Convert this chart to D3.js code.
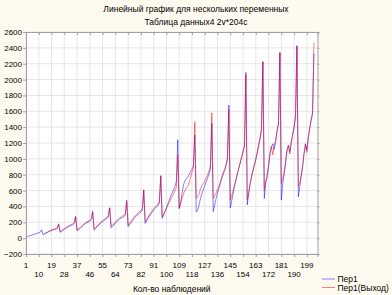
<!DOCTYPE html>
<html>
<head>
<meta charset="utf-8">
<script src="https://cdn.jsdelivr.net/npm/d3@7"></script>
<style>
  body { margin: 0; background: #fffaf0; }
  svg { display: block; font-family: "Liberation Sans", Arial, sans-serif; }
</style>
</head>
<body>
<svg id="chart"></svg>
<script>
// series values, one row per 12 observations
let per1 = [
  15, 20, 26, 32, 38, 45, 50, 56, 62, 68, 75, 105,
  45, 52, 60, 70, 80, 90, 98, 104, 108, 112, 120, 180,
  75, 82, 95, 110, 122, 135, 145, 155, 162, 168, 185, 265,
  90, 105, 120, 138, 155, 170, 185, 195, 205, 212, 235, 330,
  100, 120, 140, 158, 178, 195, 210, 222, 235, 248, 262, 380,
  130, 148, 168, 190, 205, 225, 240, 252, 262, 270, 290, 460,
  145, 170, 195, 220, 245, 265, 285, 298, 315, 330, 355, 605,
  185, 215, 248, 278, 305, 330, 355, 375, 395, 410, 440, 780,
  250, 290, 335, 385, 435, 480, 530, 570, 610, 650, 720, 1240,
  375, 450, 560, 670, 720, 750, 770, 800, 840, 870, 910, 1300,
  330, 350, 420, 500, 560, 610, 660, 710, 760, 810, 860, 1450,
  335, 420, 500, 570, 630, 690, 750, 800, 850, 910, 990, 1680,
  380, 470, 560, 650, 730, 810, 880, 950, 1020, 1090, 1160, 2090,
  420, 560, 680, 770, 850, 920, 990, 1070, 1170, 1250, 1370, 2225,
  500, 690, 780, 900, 1060, 1150, 1190, 1120, 1220, 1350, 1440, 2340,
  480, 690, 815, 950, 1110, 1170, 1090, 1210, 1300, 1400, 1530, 2430,
  520, 650, 775, 900, 1065, 1190, 1110, 1270, 1380, 1480, 1570, 2330
];
let per1Out = [
  null, null, null, null, null, null, null, null, null, null, null, null,
  null, 58, 66, 76, 86, 96, 104, 110, 116, 122, 132, 175,
  88, 95, 108, 120, 132, 145, 155, 165, 172, 180, 198, 280,
  105, 118, 135, 150, 166, 180, 196, 206, 216, 226, 250, 340,
  118, 135, 152, 170, 190, 208, 222, 235, 248, 262, 280, 385,
  152, 165, 185, 205, 222, 240, 256, 266, 280, 290, 312, 480,
  165, 188, 210, 235, 260, 280, 300, 315, 332, 348, 375, 610,
  205, 232, 265, 296, 322, 348, 372, 394, 412, 430, 465, 790,
  270, 305, 335, 370, 410, 450, 490, 525, 560, 595, 640, 1050,
  375, 430, 500, 560, 600, 630, 650, 700, 760, 830, 880, 1467,
  500, 520, 560, 620, 660, 690, 720, 760, 800, 850, 920, 1580,
  500, 530, 570, 610, 650, 710, 770, 830, 870, 930, 1010, 1620,
  480, 540, 600, 670, 740, 810, 880, 950, 1020, 1090, 1170, 2060,
  480, 580, 690, 780, 860, 930, 1000, 1080, 1180, 1260, 1380, 2225,
  610, 720, 790, 920, 1070, 1160, 1050, 1170, 1230, 1360, 1450, 2340,
  690, 760, 830, 960, 1110, 1170, 1060, 1200, 1310, 1410, 1540, 2420,
  650, 700, 790, 910, 1065, 1180, 1080, 1260, 1390, 1490, 1580, 2465
];
let xTicks = [1, 10, 19, 28, 37, 46, 55, 64, 73, 82, 91, 100, 109, 118, 127, 136, 145, 154, 163, 172, 181, 190, 199];
let yTicks = [-200, 0, 200, 400, 600, 800, 1000, 1200, 1400, 1600, 1800, 2000, 2200, 2400, 2600];
let seriesNames = ["Пер1", "Пер1(Выход)"];
let titleLines = ["Линейный график для нескольких переменных", "Таблица данных4 2v*204c"];
let xTitle = "Кол-во наблюдений";

const canvasWidth = 392;
const canvasHeight = 295;
const plotLeft = 26, plotRight = 317.5, plotTop = 32, plotBottom = 254;
const colors = ["rgba(0,0,255,0.5)", "rgba(255,0,0,0.5)"];

let svg = d3.select("#chart")
            .attr("width", canvasWidth)
            .attr("height", canvasHeight);

let x = d3.scaleLinear().domain([1, 206.5]).range([plotLeft, plotRight]);
let y = d3.scaleLinear().domain([-200, 2600]).range([plotBottom, plotTop]);

svg.append("rect")
   .attr("x", plotLeft).attr("y", plotTop)
   .attr("width", plotRight - plotLeft).attr("height", plotBottom - plotTop)
   .attr("fill", "#ffffff");

// grid
svg.append("g").selectAll("line")
   .data(xTicks).enter().append("line")
   .attr("x1", d => x(d)).attr("x2", d => x(d))
   .attr("y1", plotTop).attr("y2", plotBottom)
   .attr("stroke", "#e6e6e6");
svg.append("g").selectAll("line")
   .data(yTicks).enter().append("line")
   .attr("x1", plotLeft).attr("x2", plotRight)
   .attr("y1", d => y(d)).attr("y2", d => y(d))
   .attr("stroke", "#e6e6e6");

// lines
let line = d3.line()
             .defined(d => d != null)
             .x((d, i) => x(i + 1))
             .y(d => y(d));
[per1, per1Out].forEach((s, k) => {
  svg.append("path")
     .datum(s)
     .attr("fill", "none")
     .attr("stroke", colors[k])
     .attr("stroke-width", 1)
     .attr("d", line);
});

// axes
let yAxis = d3.axisLeft(y).tickValues(yTicks).tickSize(3).tickFormat(d3.format("d"));
let yAxisR = d3.axisRight(y).tickValues(yTicks).tickSize(2).tickFormat("");
let xAxis = d3.axisBottom(x).tickValues(xTicks).tickSize(3).tickFormat("");
let xAxisT = d3.axisTop(x).tickValues(xTicks).tickSize(-3).tickFormat("");

svg.append("g").attr("transform", `translate(${plotLeft},0)`).call(yAxis)
   .call(g => g.selectAll("text").attr("font-size", 8).attr("fill", "#000").attr("x", -4));
svg.append("g").attr("transform", `translate(${plotRight},0)`).call(yAxisR);
svg.append("g").attr("transform", `translate(0,${plotBottom})`).call(xAxis);
svg.append("g").attr("transform", `translate(0,${plotTop})`).call(xAxisT);
svg.selectAll(".domain").attr("stroke", "#a0a0a0");
svg.selectAll(".tick line").attr("stroke", "#a0a0a0");

// x tick labels on two rows
svg.append("g").selectAll("text")
   .data(xTicks).enter().append("text")
   .attr("x", d => x(d))
   .attr("y", (d, i) => i % 2 == 0 ? 267.5 : 277)
   .attr("text-anchor", "middle")
   .attr("font-size", 8)
   .text(d => d);

// titles
svg.selectAll(".title")
   .data(titleLines).enter().append("text")
   .attr("class", "title")
   .attr("x", 196)
   .attr("y", (d, i) => 12 + i * 12.5)
   .attr("text-anchor", "middle")
   .attr("font-size", 8.5)
   .text(d => d);

svg.append("text")
   .attr("x", (plotLeft + plotRight) / 2).attr("y", 291.5)
   .attr("text-anchor", "middle")
   .attr("font-size", 8.5)
   .text(xTitle);

// legend
let legend = svg.append("g").selectAll("g")
                .data(seriesNames).enter().append("g")
                .attr("transform", (d, i) => `translate(322,${279 + i * 8.5})`);
legend.append("line")
      .attr("x1", 0).attr("x2", 13)
      .attr("stroke", (d, i) => colors[i]);
legend.append("text")
      .attr("x", 15.5).attr("y", 3)
      .attr("font-size", 8.5)
      .text(d => d);
</script>
</body>
</html>
